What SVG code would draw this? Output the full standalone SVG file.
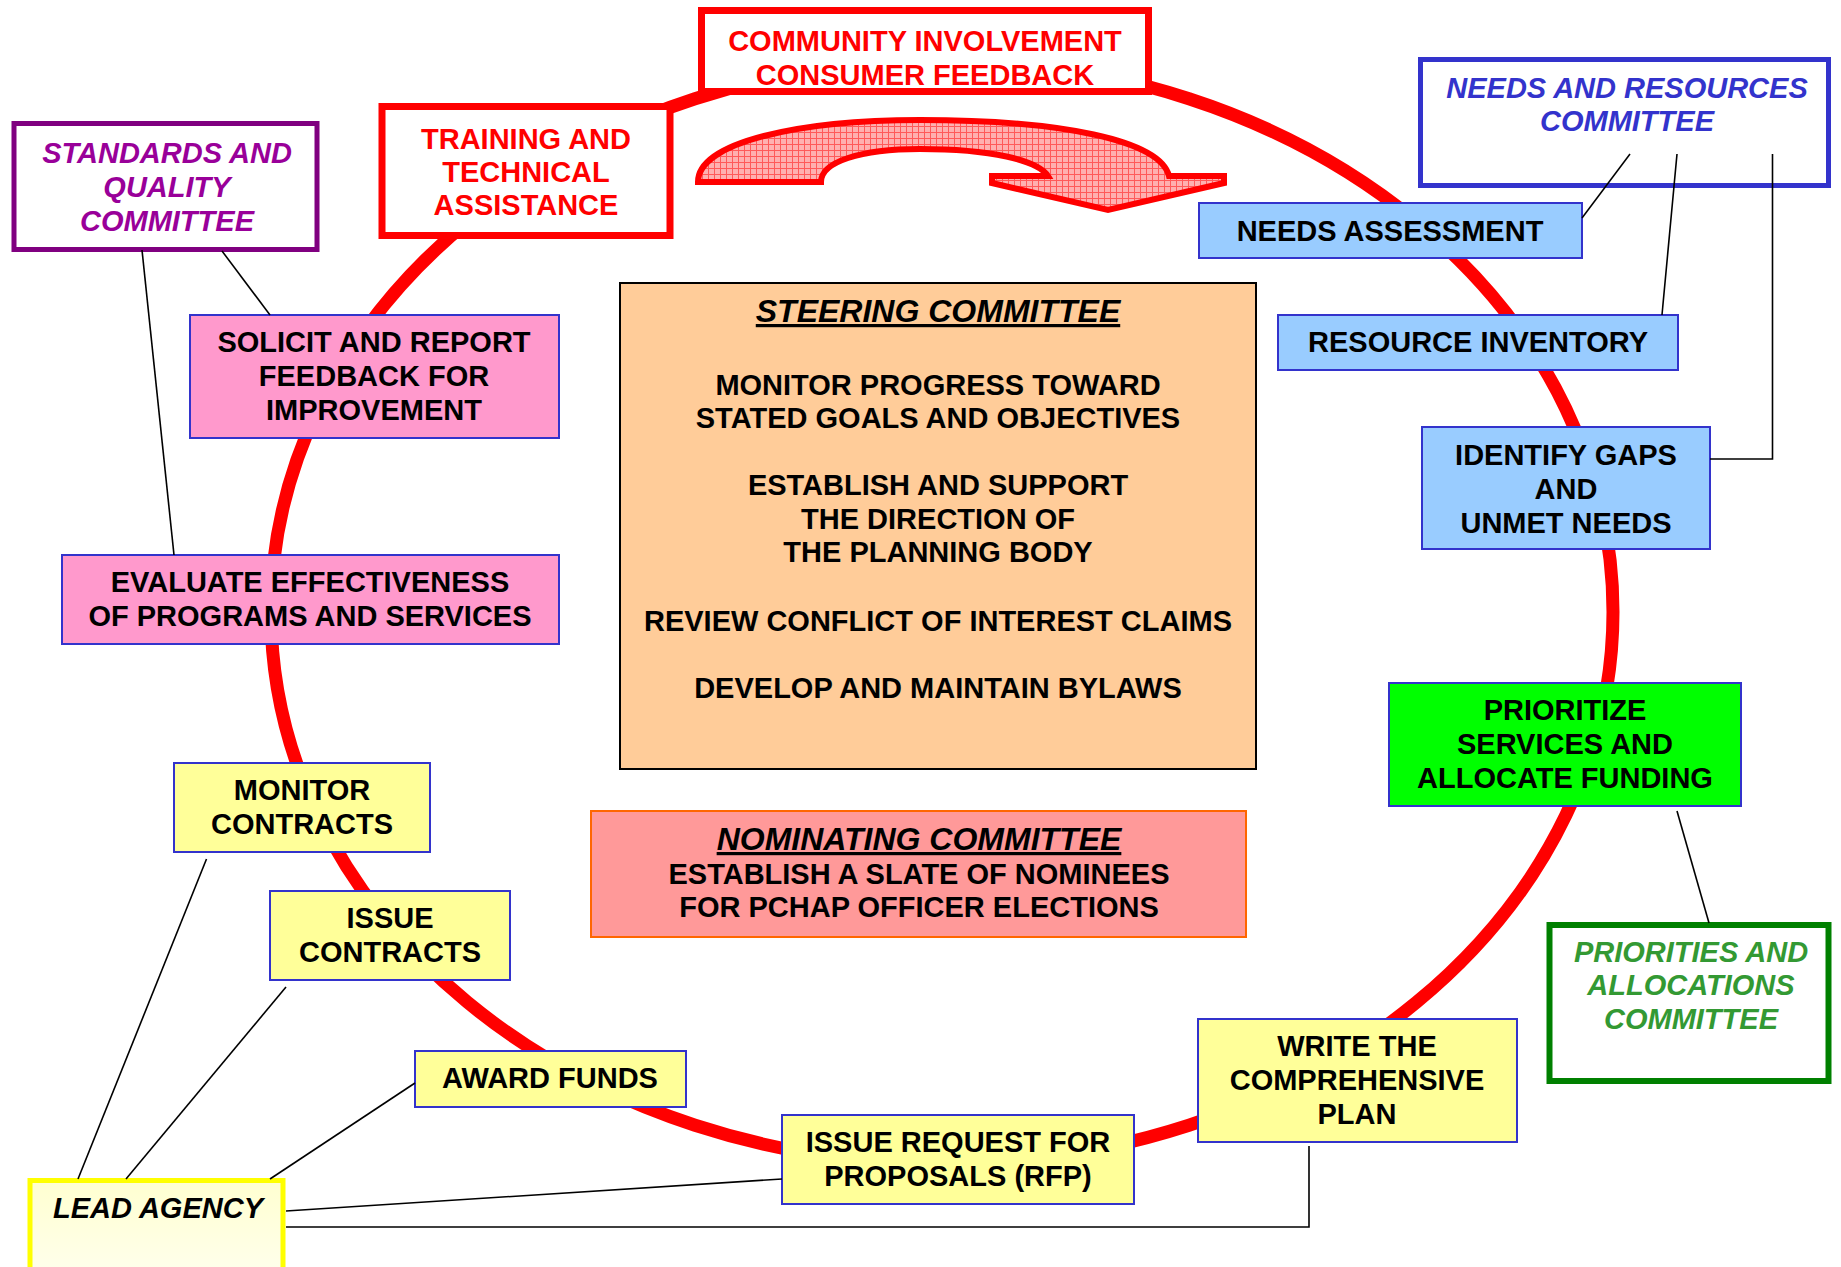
<svg xmlns="http://www.w3.org/2000/svg" width="1841" height="1267" viewBox="0 0 1841 1267">
<style>
.t{font-family:"Liberation Sans",Arial,sans-serif;font-weight:bold;font-size:29px;text-anchor:middle;fill:#000}
.i{font-style:italic}
.u{text-decoration:underline;font-size:32px}
.proc{stroke:#3333cc;stroke-width:2}
.blue{fill:#99ccff}.pink{fill:#ff99cc}.yel{fill:#ffff99}
.conn{stroke:#000;stroke-width:1.6;fill:none}
</style>
<defs>
<pattern id="hatch" width="6" height="6" patternUnits="userSpaceOnUse">
<rect width="6" height="6" fill="#ffb0b0"/>
<path d="M0 0.5H6M0.5 0V6" stroke="#ff5a5a" stroke-width="1"/>
</pattern>
<linearGradient id="lead" x1="0" y1="0" x2="0" y2="1">
<stop offset="0" stop-color="#ffffd0"/>
<stop offset="1" stop-color="#ffffee"/>
</linearGradient>
</defs>
<rect width="1841" height="1267" fill="#fff"/>
<g id="cycle">
<ellipse cx="942" cy="612" rx="671" ry="552" fill="none" stroke="#ff0000" stroke-width="13"/>
</g>
<g id="flow-arrow">
<path d="M698,182 C698,142 800,120 920,120 C1060,120 1160,140 1169,176 L1224,176 L1224,183 L1108,210 L992,183 L992,176 L1048,176 C1038,160 990,149 920,149 C860,149 821,162 821,182 Z" fill="url(#hatch)" stroke="#ff0000" stroke-width="6" stroke-linejoin="miter"/>
</g>
<g id="community">
<rect x="701.5" y="10.5" width="447" height="81" fill="#fff" stroke="#ff0000" stroke-width="7"/>
<text class="t" x="925" y="51" style="fill:#ff0000">COMMUNITY INVOLVEMENT</text>
<text class="t" x="925" y="84.5" style="fill:#ff0000">CONSUMER FEEDBACK</text>
</g>
<g id="training">
<rect x="382" y="106.5" width="288" height="129" fill="#fff" stroke="#ff0000" stroke-width="7"/>
<text class="t" x="526" y="149" style="fill:#ff0000">TRAINING AND</text>
<text class="t" x="526" y="182" style="fill:#ff0000">TECHNICAL</text>
<text class="t" x="526" y="215" style="fill:#ff0000">ASSISTANCE</text>
</g>
<g id="standards">
<rect x="14" y="123.5" width="303" height="126" fill="#fff" stroke="#800080" stroke-width="5"/>
<text class="t i" x="167" y="163" style="fill:#990099">STANDARDS AND</text>
<text class="t i" x="167" y="197" style="fill:#990099">QUALITY</text>
<text class="t i" x="167" y="231" style="fill:#990099">COMMITTEE</text>
</g>
<g id="needs-resources">
<rect x="1420.5" y="59.5" width="408" height="126" fill="#fff" stroke="#3333cc" stroke-width="5"/>
<text class="t i" x="1627" y="98" style="fill:#3333cc">NEEDS AND RESOURCES</text>
<text class="t i" x="1627" y="131" style="fill:#3333cc">COMMITTEE</text>
</g>
<g id="needs-assessment">
<rect class="blue proc" x="1199" y="203" width="383" height="55"/>
<text class="t" x="1390" y="241">NEEDS ASSESSMENT</text>
</g>
<g id="resource-inventory">
<rect class="blue proc" x="1278" y="315" width="400" height="55"/>
<text class="t" x="1478" y="352">RESOURCE INVENTORY</text>
</g>
<g id="identify-gaps">
<rect class="blue proc" x="1422" y="427" width="288" height="122"/>
<text class="t" x="1566" y="464.5">IDENTIFY GAPS</text>
<text class="t" x="1566" y="499">AND</text>
<text class="t" x="1566" y="533">UNMET NEEDS</text>
</g>
<g id="prioritize">
<rect class="proc" x="1389" y="683" width="352" height="123" fill="#00ff00"/>
<text class="t" x="1565" y="720">PRIORITIZE</text>
<text class="t" x="1565" y="754">SERVICES AND</text>
<text class="t" x="1565" y="788">ALLOCATE FUNDING</text>
</g>
<g id="priorities-committee">
<rect x="1549.5" y="925" width="279" height="156" fill="#fff" stroke="#008000" stroke-width="6"/>
<text class="t i" x="1691" y="962" style="fill:#339933">PRIORITIES AND</text>
<text class="t i" x="1691" y="995" style="fill:#339933">ALLOCATIONS</text>
<text class="t i" x="1691" y="1029" style="fill:#339933">COMMITTEE</text>
</g>
<g id="write-plan">
<rect class="yel proc" x="1198" y="1019" width="319" height="123"/>
<text class="t" x="1357" y="1056">WRITE THE</text>
<text class="t" x="1357" y="1090">COMPREHENSIVE</text>
<text class="t" x="1357" y="1124">PLAN</text>
</g>
<g id="issue-rfp">
<rect class="yel proc" x="782" y="1115" width="352" height="89"/>
<text class="t" x="958" y="1152">ISSUE REQUEST FOR</text>
<text class="t" x="958" y="1186">PROPOSALS (RFP)</text>
</g>
<g id="award-funds">
<rect class="yel proc" x="415" y="1051" width="271" height="56"/>
<text class="t" x="550" y="1088">AWARD FUNDS</text>
</g>
<g id="issue-contracts">
<rect class="yel proc" x="270" y="891" width="240" height="89"/>
<text class="t" x="390" y="928">ISSUE</text>
<text class="t" x="390" y="962">CONTRACTS</text>
</g>
<g id="monitor-contracts">
<rect class="yel proc" x="174" y="763" width="256" height="89"/>
<text class="t" x="302" y="800">MONITOR</text>
<text class="t" x="302" y="834">CONTRACTS</text>
</g>
<g id="evaluate">
<rect class="pink proc" x="62" y="555" width="497" height="89"/>
<text class="t" x="310" y="592">EVALUATE EFFECTIVENESS</text>
<text class="t" x="310" y="626">OF PROGRAMS AND SERVICES</text>
</g>
<g id="solicit">
<rect class="pink proc" x="190" y="315" width="369" height="123"/>
<text class="t" x="374" y="352">SOLICIT AND REPORT</text>
<text class="t" x="374" y="386">FEEDBACK FOR</text>
<text class="t" x="374" y="420">IMPROVEMENT</text>
</g>
<g id="steering">
<rect x="620" y="283" width="636" height="486" fill="#ffcc99" stroke="#000" stroke-width="2"/>
<text class="t i u" x="938" y="322">STEERING COMMITTEE</text>
<text class="t" x="938" y="395">MONITOR PROGRESS TOWARD</text>
<text class="t" x="938" y="428">STATED GOALS AND OBJECTIVES</text>
<text class="t" x="938" y="495">ESTABLISH AND SUPPORT</text>
<text class="t" x="938" y="528.5">THE DIRECTION OF</text>
<text class="t" x="938" y="562">THE PLANNING BODY</text>
<text class="t" x="938" y="630.5">REVIEW CONFLICT OF INTEREST CLAIMS</text>
<text class="t" x="938" y="698">DEVELOP AND MAINTAIN BYLAWS</text>
</g>
<g id="nominating">
<rect x="591" y="811" width="655" height="126" fill="#ff9999" stroke="#ff6600" stroke-width="2"/>
<text class="t i u" x="919" y="850">NOMINATING COMMITTEE</text>
<text class="t" x="919" y="884">ESTABLISH A SLATE OF NOMINEES</text>
<text class="t" x="919" y="917">FOR PCHAP OFFICER ELECTIONS</text>
</g>
<g id="lead-agency">
<rect x="30" y="1180.5" width="253" height="100" fill="url(#lead)" stroke="#ffff00" stroke-width="5"/>
<text class="t i" x="158" y="1218">LEAD AGENCY</text>
</g>
<g id="connectors">
<path class="conn" d="M142,250 L174,555"/>
<path class="conn" d="M222,251 L270,315"/>
<path class="conn" d="M1630,154 L1582,218"/>
<path class="conn" d="M1677,154 L1662,315"/>
<path class="conn" d="M1772.5,154 L1772.5,459 L1710,459"/>
<path class="conn" d="M1677,811 L1709,923"/>
<path class="conn" d="M206.5,859 L78,1179"/>
<path class="conn" d="M286,987 L126,1179"/>
<path class="conn" d="M415,1083 L270,1179"/>
<path class="conn" d="M782,1179 L286,1211"/>
<path class="conn" d="M1309,1146 L1309,1227 L286,1227"/>
</g>
</svg>
